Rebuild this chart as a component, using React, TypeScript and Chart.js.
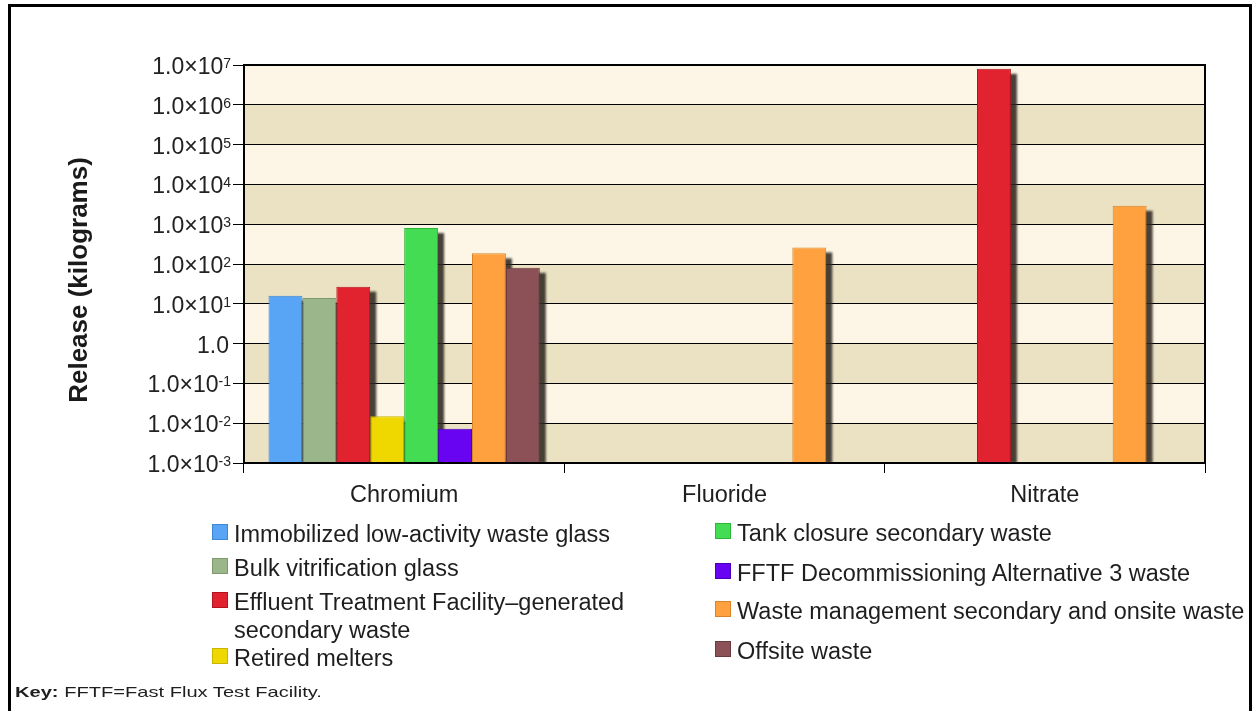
import React, { useEffect, useRef } from "react";
import { Chart, registerables } from "chart.js";

Chart.register(...registerables);

const FONT = '"Liberation Sans", Arial, Helvetica, sans-serif';

// ---- data ----
const categories = ["Chromium", "Fluoride", "Nitrate"];

const seriesNames = [
  "Immobilized low-activity waste glass",
  "Bulk vitrification glass",
  "Effluent Treatment Facility–generated secondary waste",
  "Retired melters",
  "Tank closure secondary waste",
  "FFTF Decommissioning Alternative 3 waste",
  "Waste management secondary and onsite waste",
  "Offsite waste",
];

const seriesColors = [
  "#58a5f5",
  "#9bb68b",
  "#e1222f",
  "#efd800",
  "#43dc52",
  "#6804f2",
  "#ffa13e",
  "#8b5156",
];

const seriesBorders = [
  "#3f86d2",
  "#7d9a6e",
  "#b3141f",
  "#c9b400",
  "#2cb53b",
  "#4a00b8",
  "#d9832a",
  "#6a3a3e",
];

const ilawGlass = [16, null, null];
const bulkVitGlass = [14, null, null];
const etfSecondary = [27, null, 8.0e6];
const retiredMelters = [0.015, null, null];
const tankClosure = [800, null, null];
const fftfWaste = [0.0073, null, null];
const wasteMgmt = [185, 260, 2900];
const offsiteWaste = [80, null, null];

const seriesValues = [
  ilawGlass,
  bulkVitGlass,
  etfSecondary,
  retiredMelters,
  tankClosure,
  fftfWaste,
  wasteMgmt,
  offsiteWaste,
];

const yTickExponents = [-3, -2, -1, 0, 1, 2, 3, 4, 5, 6, 7];
const yTickBase = "1.0×10";
const yTickUnit = "1.0";
const yTitle = "Release (kilograms)";
const keyLabel = "Key:";
const keyText = " FFTF=Fast Flux Test Facility.";

const legendColumn1 = [0, 1, 2, 3];
const legendColumn2 = [4, 5, 6, 7];

const bandPlugin = {
  id: "bands",
  beforeDraw(chart: any) {
    const { ctx, chartArea } = chart;
    const ys = chart.scales.y;
    ctx.save();
    for (let e = yTickExponents[0]; e < yTickExponents[yTickExponents.length - 1]; e++) {
      const yb = ys.getPixelForValue(Math.pow(10, e));
      const yt = ys.getPixelForValue(Math.pow(10, e + 1));
      ctx.fillStyle = ((e % 2) + 2) % 2 === 0 ? "#fdf6e7" : "#ebe2c4";
      ctx.fillRect(chartArea.left, yt, chartArea.right - chartArea.left, yb - yt);
    }
    ctx.restore();
  },
};

const shadowPlugin = {
  id: "barShadow",
  beforeDatasetsDraw(chart: any) {
    const { ctx, chartArea } = chart;
    ctx.save();
    ctx.beginPath();
    ctx.rect(chartArea.left, chartArea.top, chartArea.right - chartArea.left, chartArea.bottom - chartArea.top);
    ctx.clip();
    ctx.filter = "blur(1.2px)";
    ctx.fillStyle = "rgba(45,40,34,0.88)";
    chart.getSortedVisibleDatasetMetas().forEach((meta: any) => {
      const data = chart.data.datasets[meta.index].data;
      meta.data.forEach((el: any, i: number) => {
        if (data[i] == null) return;
        const p = el.getProps(["x", "y", "width", "base"], true);
        if (!isFinite(p.y)) return;
        ctx.fillRect(p.x - p.width / 2 + 6, p.y + 5, p.width, p.base - p.y - 5);
      });
    });
    ctx.restore();
  },
};

const framePlugin = {
  id: "frameAndLabels",
  afterDraw(chart: any) {
    const { ctx, chartArea } = chart;
    const ys = chart.scales.y;
    ctx.save();
    ctx.strokeStyle = "#000";
    ctx.lineWidth = 2;
    ctx.strokeRect(chartArea.left, chartArea.top, chartArea.right - chartArea.left, chartArea.bottom - chartArea.top);

    ctx.fillStyle = "#222";
    ctx.textBaseline = "alphabetic";
    ctx.textAlign = "right";
    const right = 231;
    for (const e of yTickExponents) {
      const py = ys.getPixelForValue(Math.pow(10, e));
      if (e === 0) {
        ctx.font = `23px ${FONT}`;
        ctx.fillText(yTickUnit, right - 2, py + 9);
        continue;
      }
      const exp = e < 0 ? "-" + Math.abs(e) : String(e);
      ctx.font = `14px ${FONT}`;
      const ew = ctx.measureText(exp).width;
      ctx.fillText(exp, right, py + 3);
      ctx.font = `23px ${FONT}`;
      ctx.fillText(yTickBase, right - ew, py + 9);
    }

    ctx.translate(87, 280);
    ctx.rotate(-Math.PI / 2);
    ctx.textAlign = "center";
    ctx.font = `bold 26px ${FONT}`;
    ctx.fillStyle = "#1a1a1a";
    ctx.fillText(yTitle, 0, 0);
    ctx.restore();
  },
};

function LegendItem({ idx, left, top }: { idx: number; left: number; top: number }) {
  return (
    <div style={{ position: "absolute", left, top, width: 520 }}>
      <div
        style={{
          position: "absolute",
          left: 0,
          top: 4,
          width: 16,
          height: 16,
          boxSizing: "border-box",
          background: seriesColors[idx],
          border: `1px solid ${seriesBorders[idx]}`,
        }}
      />
      <div
        style={{
          position: "absolute",
          left: 22,
          top: 0,
          width: idx === 2 ? 410 : 520,
          fontSize: "23.5px",
          lineHeight: "28px",
          color: "#1e1e1e",
          whiteSpace: idx === 2 ? "normal" : "nowrap",
        }}
      >
        {seriesNames[idx]}
      </div>
    </div>
  );
}

export default function App() {
  const canvasRef = useRef<HTMLCanvasElement | null>(null);

  useEffect(() => {
    document.body.style.overflow = "hidden";
    const canvas = canvasRef.current;
    if (!canvas) return;
    Chart.defaults.font.family = FONT;
    const chart = new Chart(canvas, {
      type: "bar",
      data: {
        labels: categories,
        datasets: seriesNames.map((name, i) => ({
          label: name,
          data: seriesValues[i] as any,
          backgroundColor: seriesColors[i],
          borderColor: seriesBorders[i],
          borderWidth: 1,
          categoryPercentage: 0.847,
          barPercentage: 1.0,
        })),
      },
      options: {
        responsive: false,
        animation: false,
        events: [],
        layout: { padding: { left: 0, top: 65, right: 50, bottom: 208 } },
        plugins: {
          legend: { display: false },
          tooltip: { enabled: false },
          title: { display: false },
        },
        scales: {
          x: {
            grid: {
              offset: true,
              drawOnChartArea: false,
              drawTicks: true,
              tickLength: 10,
              color: "#000",
              lineWidth: 1,
            },
            border: { display: true, color: "#000", width: 2 },
            ticks: {
              color: "#1e1e1e",
              font: { family: FONT, size: 23.5 },
              padding: 8,
              maxRotation: 0,
            },
            afterFit: (s: any) => {
              s.height = 40;
            },
          },
          y: {
            type: "logarithmic",
            min: 1e-3,
            max: 1e7,
            grid: { color: "#000", lineWidth: 1, drawTicks: true, tickLength: 11 },
            border: { display: true, color: "#000", width: 2 },
            ticks: { display: false },
            afterBuildTicks: (s: any) => {
              s.ticks = yTickExponents.map((e) => ({ value: Math.pow(10, e) }));
            },
            afterFit: (s: any) => {
              s.width = 244;
            },
          },
        },
      },
      plugins: [bandPlugin, shadowPlugin, framePlugin],
    });
    return () => chart.destroy();
  }, []);

  const col1Tops = [520, 554, 588, 644];
  const col2Tops = [519, 559, 597, 637];

  return (
    <div
      style={{
        position: "absolute",
        left: 0,
        top: 0,
        width: 1255,
        height: 711,
        overflow: "hidden",
        background: "#fff",
        fontFamily: FONT,
      }}
    >
      <div
        style={{
          position: "absolute",
          left: 8,
          top: 4,
          width: 1244,
          height: 780,
          boxSizing: "border-box",
          border: "3px solid #000",
        }}
      />
      <canvas ref={canvasRef} width={1255} height={711} style={{ position: "absolute", left: 0, top: 0 }} />
      {legendColumn1.map((idx, r) => (
        <LegendItem key={idx} idx={idx} left={212} top={col1Tops[r]} />
      ))}
      {legendColumn2.map((idx, r) => (
        <LegendItem key={idx} idx={idx} left={715} top={col2Tops[r]} />
      ))}
      <div
        style={{
          position: "absolute",
          left: 15,
          top: 683,
          fontSize: "15px",
          lineHeight: "18px",
          color: "#1e1e1e",
          whiteSpace: "nowrap",
          transform: "scaleX(1.34)",
          transformOrigin: "left top",
        }}
      >
        <b>{keyLabel}</b>
        {keyText}
      </div>
    </div>
  );
}
